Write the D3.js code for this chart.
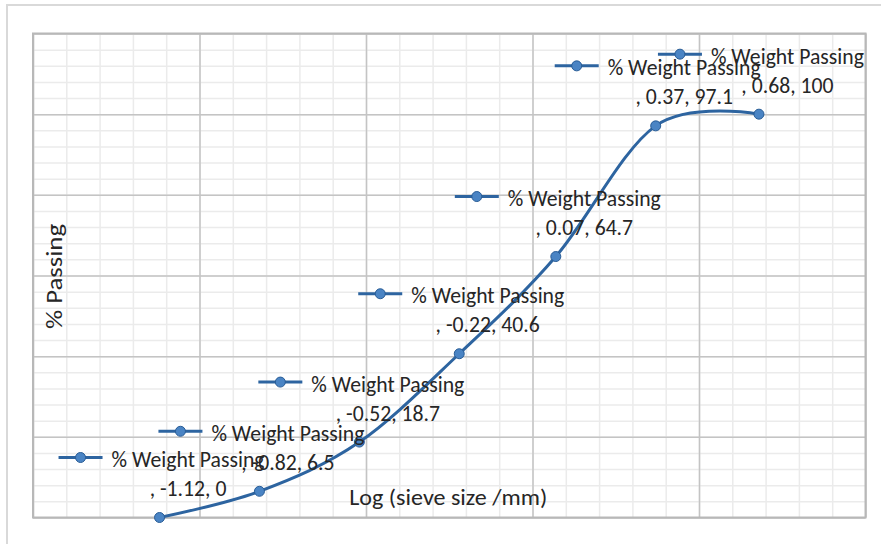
<!DOCTYPE html>
<html>
<head>
<meta charset="utf-8">
<script src="https://cdn.jsdelivr.net/npm/d3@7"></script>
<style>
  html, body { margin: 0; padding: 0; background: #ffffff; }
  svg { display: block; }
</style>
</head>
<body>
<div id="chart"></div>
<script>
// ---- data ----
const seriesName = "% Weight Passing";
const logSize = [-1.12, -0.82, -0.52, -0.22, 0.07, 0.37, 0.68];
const passing = [0, 6.5, 18.7, 40.6, 64.7, 97.1, 100];
const xTitle = "Log (sieve size /mm)";
const yTitle = "% Passing";
const xDomain = [-1.5, 1.0];
const yDomain = [0, 120];

// ---- layout ----
const W = 881, H = 544;
const plot = { left: 33, top: 33.5, right: 865.5, bottom: 517.5 };
const FONT = "Carlito, Calibri, Lato, sans-serif";
const TEXT = "#262626";
const LINE = "#2d64a0";
const MARK_FILL = "#4a84c4";
const MARK_STROKE = "#285c96";
const FS = 21.5;
const FS_T = 22.5;

const svg = d3.select("#chart").append("svg")
  .attr("width", W).attr("height", H);

svg.append("rect").attr("width", W).attr("height", H).attr("fill", "#fff");
svg.append("rect").attr("x", 7).attr("y", 5).attr("width", W + 20).attr("height", H + 20)
  .attr("fill", "none").attr("stroke", "#d9d9d9").attr("stroke-width", 2);

const x = d3.scaleLinear().domain(xDomain).range([plot.left, plot.right]);
const y = d3.scaleLinear().domain(yDomain).range([plot.bottom, plot.top]);
const pw = plot.right - plot.left, ph = plot.bottom - plot.top;

const xMinor = d3.range(-15, 11).map(d => d / 10);
const xMajor = d3.range(-3, 3).map(d => d / 2);
const yMinor = d3.range(0, 121, 4);
const yMajor = d3.range(0, 121, 20);

function grid(g) { g.select(".domain").remove(); g.selectAll("text").remove(); }

svg.append("g").attr("transform", `translate(0,${plot.bottom})`)
  .call(d3.axisBottom(x).tickValues(xMinor).tickSize(-ph).tickFormat(""))
  .call(grid).selectAll("line").attr("stroke", "#ebebeb").attr("stroke-width", 1.5);
svg.append("g").attr("transform", `translate(${plot.left},0)`)
  .call(d3.axisLeft(y).tickValues(yMinor).tickSize(-pw).tickFormat(""))
  .call(grid).selectAll("line").attr("stroke", "#ebebeb").attr("stroke-width", 1.5);
svg.append("g").attr("transform", `translate(0,${plot.bottom})`)
  .call(d3.axisBottom(x).tickValues(xMajor).tickSize(-ph).tickFormat(""))
  .call(grid).selectAll("line").attr("stroke", "#c4c4c4").attr("stroke-width", 1.5);
svg.append("g").attr("transform", `translate(${plot.left},0)`)
  .call(d3.axisLeft(y).tickValues(yMajor).tickSize(-pw).tickFormat(""))
  .call(grid).selectAll("line").attr("stroke", "#c4c4c4").attr("stroke-width", 1.5);

svg.append("rect").attr("x", plot.left).attr("y", plot.top).attr("width", pw).attr("height", ph)
  .attr("fill", "none").attr("stroke", "#b8b8b8").attr("stroke-width", 2);

// text helper
const meas = svg.append("text").attr("font-family", FONT).attr("font-size", FS).attr("opacity", 0);
function natural(str, size) { meas.attr("font-size", size).text(str); return meas.node().getComputedTextLength(); }
const RATIO = 153 / natural(seriesName, FS);
function addText(parent, str, size, len) {
  return parent.append("text")
    .attr("font-family", FONT).attr("font-size", size).attr("fill", TEXT)
    .attr("dy", "0.35em")
    .attr("textLength", len).attr("lengthAdjust", "spacingAndGlyphs")
    .text(str);
}

// axis titles
addText(svg, xTitle, FS_T, 198).attr("x", (plot.left + plot.right) / 2 - 1).attr("y", 497).attr("text-anchor", "middle");
addText(svg, yTitle, FS_T, 105).attr("text-anchor", "middle")
  .attr("transform", `translate(54,${(plot.top + plot.bottom) / 2 + 1}) rotate(-90)`);

// series line
const pts = logSize.map((d, i) => [d, passing[i]]);
const line = d3.line().x(d => x(d[0])).y(d => y(d[1])).curve(d3.curveCardinal.tension(0));
svg.append("path").datum(pts).attr("d", line)
  .attr("fill", "none").attr("stroke", LINE).attr("stroke-width", 3);
svg.selectAll("circle.pt").data(pts).join("circle").attr("class", "pt")
  .attr("cx", d => x(d[0])).attr("cy", d => y(d[1])).attr("r", 5)
  .attr("fill", MARK_FILL).attr("stroke", MARK_STROKE).attr("stroke-width", 1);

// data labels with legend key
const tw = natural(seriesName, FS) * RATIO;
const keyW = 44, gap = 9;
const blockW = keyW + gap + tw;
pts.forEach(d => {
  const px = x(d[0]) + 2, py = y(d[1]);
  const left = px - blockW / 2;
  const g = svg.append("g");
  const ky = py - 60;
  g.append("line").attr("x1", left).attr("x2", left + keyW).attr("y1", ky).attr("y2", ky)
    .attr("stroke", LINE).attr("stroke-width", 3);
  g.append("circle").attr("cx", left + keyW / 2).attr("cy", ky).attr("r", 5)
    .attr("fill", MARK_FILL).attr("stroke", MARK_STROKE).attr("stroke-width", 1);
  addText(g, seriesName, FS, tw).attr("x", left + keyW + gap).attr("y", py - 58);
  const s2 = `, ${d[0].toFixed(2)}, ${d[1]}`;
  addText(g, s2, FS, natural(s2, FS) * RATIO)
    .attr("x", left + keyW + gap + tw / 2).attr("y", py - 29).attr("text-anchor", "middle");
});
meas.remove();
</script>
</body>
</html>
